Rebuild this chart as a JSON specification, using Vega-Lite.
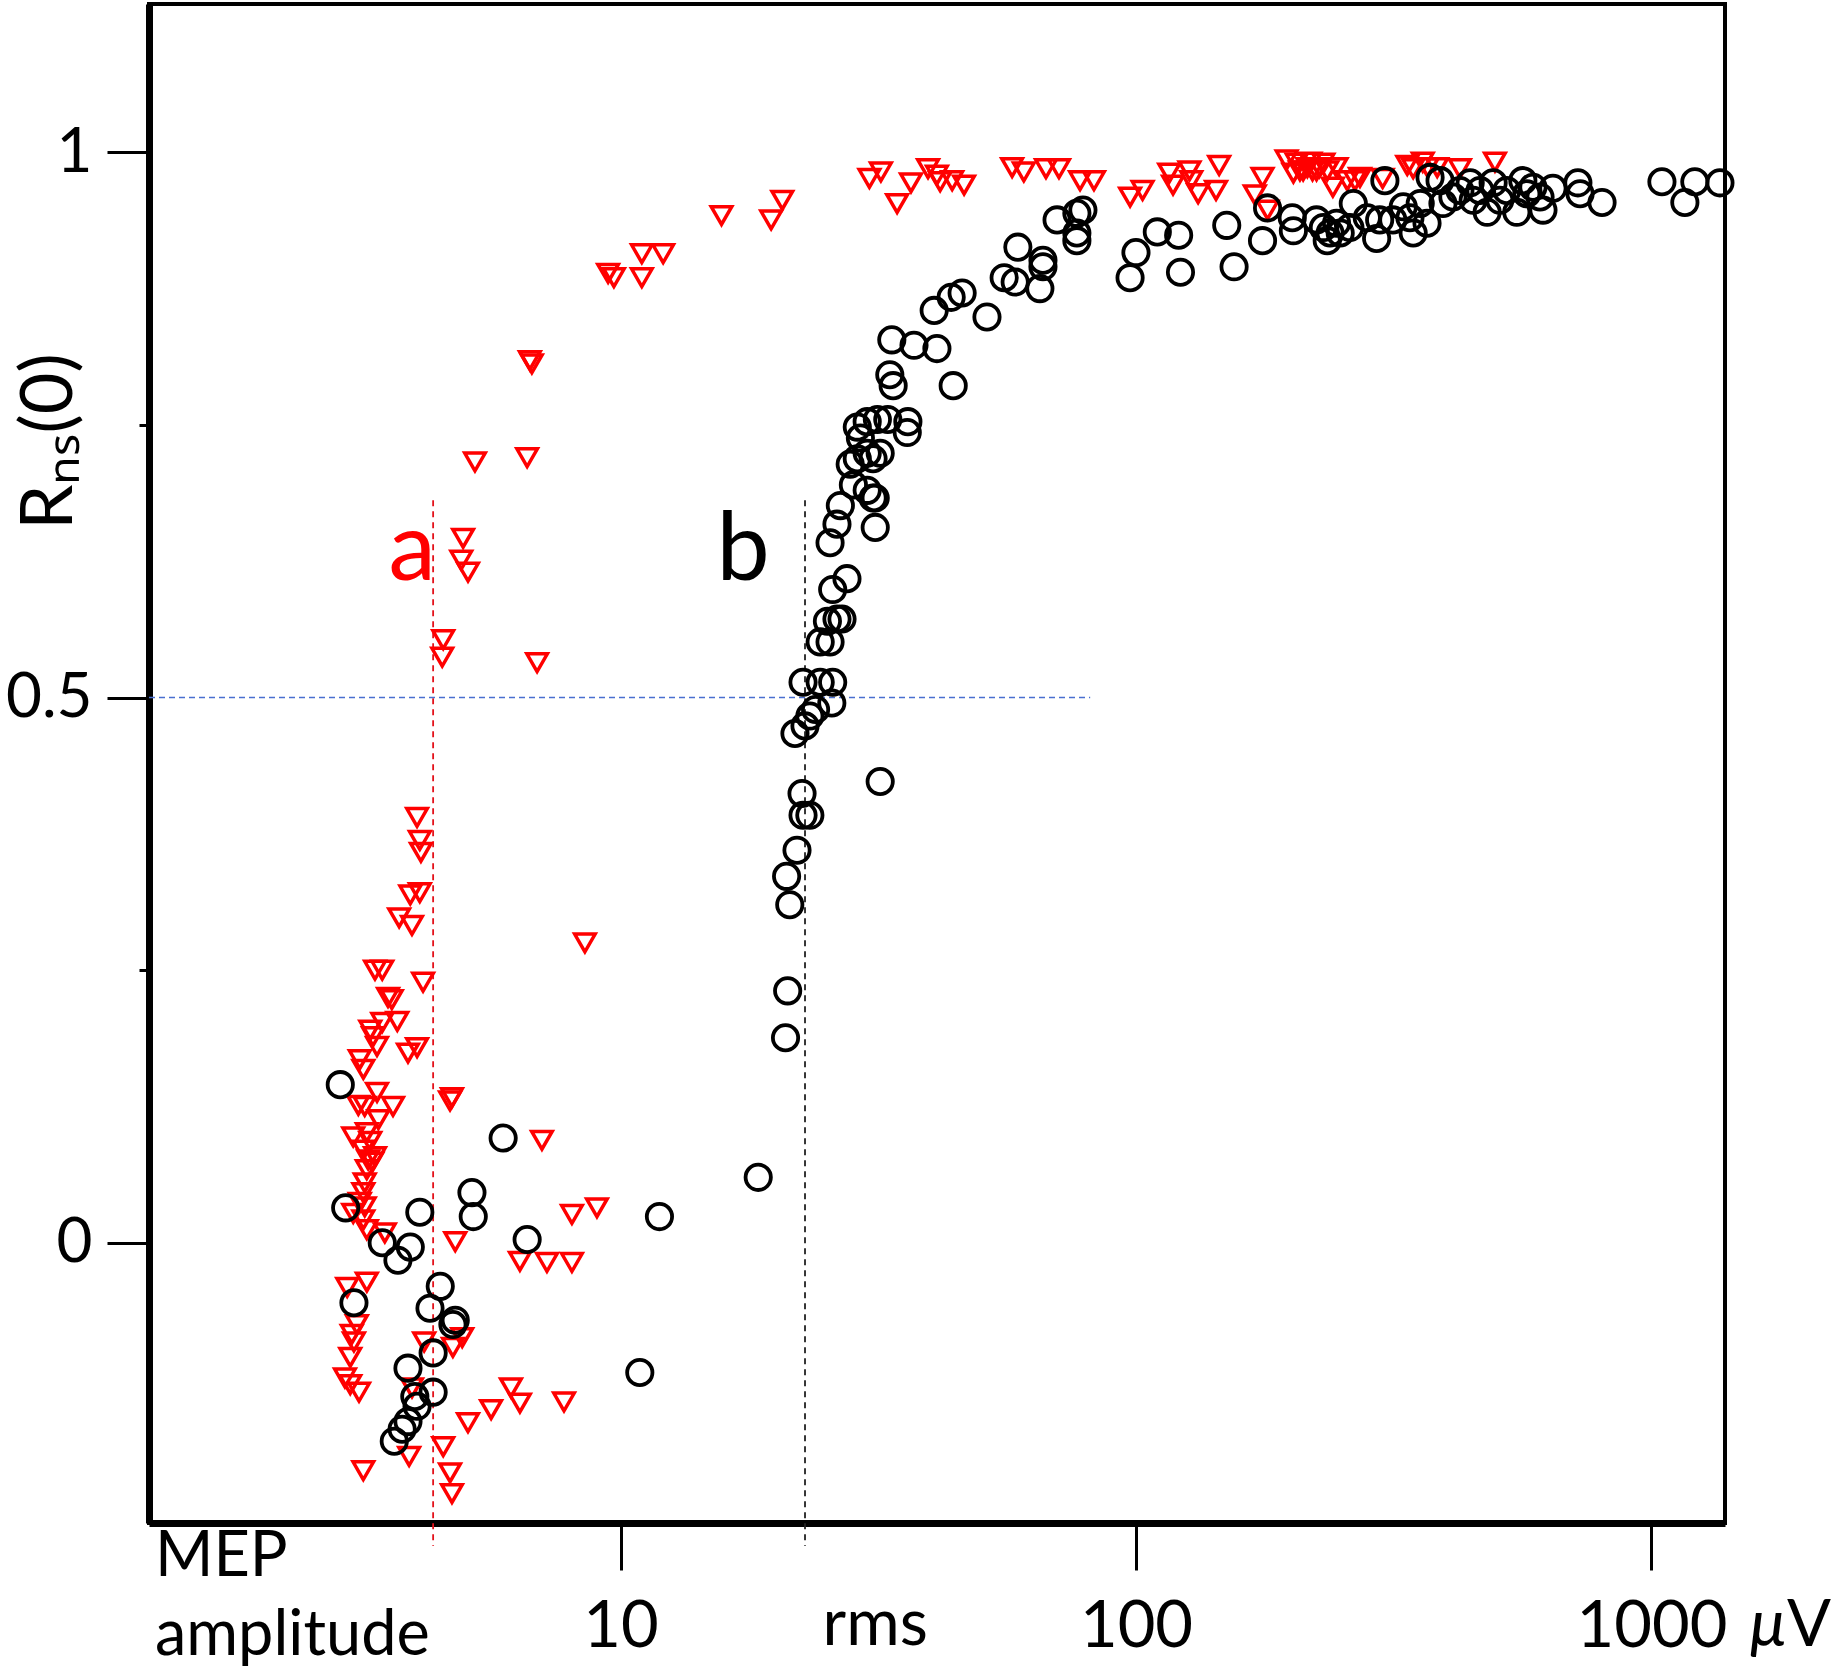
{
  "$schema": "https://vega.github.io/schema/vega-lite/v6.json",
  "width": 1576,
  "height": 1519,
  "autosize": "none",
  "padding": {"left": 149, "top": 4, "right": 112, "bottom": 150},
  "background": "white",
  "config": {
    "font": "Lato",
    "view": {"stroke": "black", "strokeWidth": 4}
  },
  "datasets": {
    "mep": [
      {"amp": 9.46, "r": 0.889}, {"amp": 9.71, "r": 0.885}, {"amp": 11.0, "r": 0.907}, {"amp": 12.1, "r": 0.907},
      {"amp": 11.0, "r": 0.885}, {"amp": 15.7, "r": 0.942}, {"amp": 19.6, "r": 0.938}, {"amp": 20.6, "r": 0.956},
      {"amp": 30.4, "r": 0.976}, {"amp": 32.0, "r": 0.982}, {"amp": 34.4, "r": 0.953}, {"amp": 36.6, "r": 0.972},
      {"amp": 39.5, "r": 0.985}, {"amp": 41.7, "r": 0.973}, {"amp": 44.0, "r": 0.974}, {"amp": 46.4, "r": 0.970},
      {"amp": 41.1, "r": 0.979}, {"amp": 57.5, "r": 0.986}, {"amp": 60.6, "r": 0.982}, {"amp": 66.9, "r": 0.985},
      {"amp": 70.9, "r": 0.985}, {"amp": 77.9, "r": 0.974}, {"amp": 82.9, "r": 0.974}, {"amp": 97.4, "r": 0.959},
      {"amp": 103, "r": 0.965}, {"amp": 116, "r": 0.981}, {"amp": 118, "r": 0.970}, {"amp": 127, "r": 0.983},
      {"amp": 128, "r": 0.974}, {"amp": 132, "r": 0.962}, {"amp": 143, "r": 0.965}, {"amp": 145, "r": 0.988},
      {"amp": 170, "r": 0.961}, {"amp": 176, "r": 0.977}, {"amp": 180, "r": 0.947}, {"amp": 196, "r": 0.993},
      {"amp": 202, "r": 0.981}, {"amp": 208, "r": 0.983}, {"amp": 215, "r": 0.986}, {"amp": 220, "r": 0.983},
      {"amp": 227, "r": 0.986}, {"amp": 235, "r": 0.983}, {"amp": 241, "r": 0.968}, {"amp": 245, "r": 0.986},
      {"amp": 257, "r": 0.974}, {"amp": 266, "r": 0.974}, {"amp": 272, "r": 0.977}, {"amp": 301, "r": 0.976},
      {"amp": 336, "r": 0.988}, {"amp": 345, "r": 0.985}, {"amp": 360, "r": 0.991}, {"amp": 368, "r": 0.986},
      {"amp": 384, "r": 0.986}, {"amp": 425, "r": 0.985}, {"amp": 497, "r": 0.991}, {"amp": 205, "r": 0.990},
      {"amp": 211, "r": 0.983}, {"amp": 218, "r": 0.991}, {"amp": 224, "r": 0.983}, {"amp": 231, "r": 0.990},
      {"amp": 6.67, "r": 0.809}, {"amp": 6.73, "r": 0.806}, {"amp": 5.22, "r": 0.716}, {"amp": 6.59, "r": 0.720},
      {"amp": 4.95, "r": 0.646}, {"amp": 4.91, "r": 0.626}, {"amp": 5.06, "r": 0.615}, {"amp": 4.53, "r": 0.553},
      {"amp": 4.51, "r": 0.537}, {"amp": 6.89, "r": 0.532}, {"amp": 4.03, "r": 0.390}, {"amp": 4.08, "r": 0.369},
      {"amp": 4.10, "r": 0.358}, {"amp": 3.91, "r": 0.319}, {"amp": 4.08, "r": 0.321}, {"amp": 3.72, "r": 0.298},
      {"amp": 3.94, "r": 0.291}, {"amp": 8.53, "r": 0.275}, {"amp": 3.34, "r": 0.250}, {"amp": 3.45, "r": 0.250},
      {"amp": 4.14, "r": 0.239}, {"amp": 3.54, "r": 0.225}, {"amp": 3.60, "r": 0.223}, {"amp": 3.69, "r": 0.203},
      {"amp": 3.45, "r": 0.202}, {"amp": 3.27, "r": 0.195}, {"amp": 3.31, "r": 0.189}, {"amp": 3.37, "r": 0.180},
      {"amp": 4.03, "r": 0.179}, {"amp": 3.87, "r": 0.174}, {"amp": 3.12, "r": 0.168}, {"amp": 3.17, "r": 0.159},
      {"amp": 4.71, "r": 0.133}, {"amp": 4.67, "r": 0.130}, {"amp": 3.37, "r": 0.138}, {"amp": 3.10, "r": 0.126},
      {"amp": 3.19, "r": 0.125}, {"amp": 3.62, "r": 0.125}, {"amp": 3.39, "r": 0.113}, {"amp": 3.22, "r": 0.101},
      {"amp": 3.03, "r": 0.097}, {"amp": 3.27, "r": 0.093}, {"amp": 3.17, "r": 0.085}, {"amp": 3.24, "r": 0.076},
      {"amp": 3.30, "r": 0.074}, {"amp": 3.34, "r": 0.079}, {"amp": 3.22, "r": 0.067}, {"amp": 3.19, "r": 0.055},
      {"amp": 3.17, "r": 0.046}, {"amp": 3.12, "r": 0.037}, {"amp": 3.19, "r": 0.033}, {"amp": 3.17, "r": 0.021},
      {"amp": 3.22, "r": 0.012}, {"amp": 3.49, "r": 0.009}, {"amp": 3.03, "r": 0.027}, {"amp": 7.04, "r": 0.094},
      {"amp": 8.05, "r": 0.026}, {"amp": 9.00, "r": 0.032}, {"amp": 4.78, "r": 0.001}, {"amp": 6.38, "r": -0.017},
      {"amp": 7.20, "r": -0.018}, {"amp": 8.05, "r": -0.018}, {"amp": 3.22, "r": -0.036}, {"amp": 2.95, "r": -0.041},
      {"amp": 3.08, "r": -0.075}, {"amp": 3.01, "r": -0.084}, {"amp": 3.04, "r": -0.091}, {"amp": 2.99, "r": -0.105},
      {"amp": 2.92, "r": -0.124}, {"amp": 2.99, "r": -0.130}, {"amp": 3.11, "r": -0.137}, {"amp": 4.16, "r": -0.091},
      {"amp": 4.73, "r": -0.096}, {"amp": 4.93, "r": -0.087}, {"amp": 3.94, "r": -0.133}, {"amp": 6.13, "r": -0.133},
      {"amp": 6.38, "r": -0.147}, {"amp": 5.61, "r": -0.153}, {"amp": 5.06, "r": -0.165}, {"amp": 7.77, "r": -0.146},
      {"amp": 3.17, "r": -0.209}, {"amp": 3.89, "r": -0.196}, {"amp": 4.53, "r": -0.187}, {"amp": 4.67, "r": -0.211},
      {"amp": 4.71, "r": -0.230}
    ],
    "rms": [
      {"amp": 2.86, "r": 0.145}, {"amp": 5.92, "r": 0.096}, {"amp": 5.15, "r": 0.046}, {"amp": 5.18, "r": 0.024},
      {"amp": 2.93, "r": 0.032}, {"amp": 4.08, "r": 0.028}, {"amp": 6.59, "r": 0.003}, {"amp": 3.45, "r": 0.000},
      {"amp": 3.91, "r": -0.004}, {"amp": 3.70, "r": -0.016}, {"amp": 4.47, "r": -0.040}, {"amp": 3.04, "r": -0.055},
      {"amp": 4.27, "r": -0.060}, {"amp": 4.78, "r": -0.071}, {"amp": 4.73, "r": -0.075}, {"amp": 4.33, "r": -0.101},
      {"amp": 3.87, "r": -0.115}, {"amp": 10.9, "r": -0.119}, {"amp": 4.33, "r": -0.137}, {"amp": 3.99, "r": -0.141},
      {"amp": 4.03, "r": -0.150}, {"amp": 3.87, "r": -0.164}, {"amp": 3.64, "r": -0.182}, {"amp": 3.77, "r": -0.171},
      {"amp": 11.9, "r": 0.024}, {"amp": 18.5, "r": 0.060}, {"amp": 20.9, "r": 0.188}, {"amp": 21.1, "r": 0.231},
      {"amp": 21.3, "r": 0.310}, {"amp": 21.0, "r": 0.336}, {"amp": 22.0, "r": 0.360}, {"amp": 23.3, "r": 0.392},
      {"amp": 22.6, "r": 0.392}, {"amp": 22.5, "r": 0.412}, {"amp": 31.9, "r": 0.423}, {"amp": 21.8, "r": 0.467},
      {"amp": 22.8, "r": 0.474}, {"amp": 23.3, "r": 0.483}, {"amp": 23.9, "r": 0.489}, {"amp": 22.6, "r": 0.514},
      {"amp": 24.4, "r": 0.514}, {"amp": 25.8, "r": 0.514}, {"amp": 25.7, "r": 0.495}, {"amp": 24.4, "r": 0.551},
      {"amp": 25.5, "r": 0.551}, {"amp": 25.2, "r": 0.570}, {"amp": 26.3, "r": 0.572}, {"amp": 26.9, "r": 0.572},
      {"amp": 25.8, "r": 0.599}, {"amp": 27.5, "r": 0.609}, {"amp": 25.5, "r": 0.642}, {"amp": 26.3, "r": 0.659},
      {"amp": 26.7, "r": 0.676}, {"amp": 31.2, "r": 0.656}, {"amp": 30.9, "r": 0.683}, {"amp": 28.3, "r": 0.695},
      {"amp": 27.9, "r": 0.714}, {"amp": 28.8, "r": 0.719}, {"amp": 30.1, "r": 0.724}, {"amp": 30.9, "r": 0.719},
      {"amp": 31.9, "r": 0.724}, {"amp": 29.2, "r": 0.738}, {"amp": 30.1, "r": 0.753}, {"amp": 31.5, "r": 0.755},
      {"amp": 33.0, "r": 0.755}, {"amp": 36.1, "r": 0.753}, {"amp": 36.0, "r": 0.743}, {"amp": 28.8, "r": 0.748},
      {"amp": 30.1, "r": 0.690}, {"amp": 31.2, "r": 0.683}, {"amp": 33.8, "r": 0.786}, {"amp": 44.2, "r": 0.786},
      {"amp": 33.3, "r": 0.796}, {"amp": 33.6, "r": 0.828}, {"amp": 37.1, "r": 0.823}, {"amp": 41.1, "r": 0.820},
      {"amp": 40.6, "r": 0.855}, {"amp": 43.8, "r": 0.867}, {"amp": 46.0, "r": 0.871}, {"amp": 51.4, "r": 0.849},
      {"amp": 55.5, "r": 0.885}, {"amp": 58.3, "r": 0.881}, {"amp": 59.0, "r": 0.913}, {"amp": 65.1, "r": 0.875},
      {"amp": 66.0, "r": 0.895}, {"amp": 66.0, "r": 0.901}, {"amp": 70.3, "r": 0.938}, {"amp": 76.8, "r": 0.944},
      {"amp": 78.9, "r": 0.947}, {"amp": 76.8, "r": 0.926}, {"amp": 76.8, "r": 0.919}, {"amp": 97.4, "r": 0.885},
      {"amp": 100, "r": 0.908}, {"amp": 110, "r": 0.927}, {"amp": 121, "r": 0.924}, {"amp": 122, "r": 0.890},
      {"amp": 150, "r": 0.933}, {"amp": 155, "r": 0.895}, {"amp": 176, "r": 0.919}, {"amp": 180, "r": 0.949},
      {"amp": 201, "r": 0.940}, {"amp": 202, "r": 0.928}, {"amp": 224, "r": 0.938}, {"amp": 231, "r": 0.931},
      {"amp": 238, "r": 0.926}, {"amp": 235, "r": 0.919}, {"amp": 245, "r": 0.935}, {"amp": 249, "r": 0.926},
      {"amp": 264, "r": 0.953}, {"amp": 260, "r": 0.931}, {"amp": 281, "r": 0.940}, {"amp": 293, "r": 0.921},
      {"amp": 297, "r": 0.938}, {"amp": 304, "r": 0.974}, {"amp": 315, "r": 0.938}, {"amp": 330, "r": 0.950},
      {"amp": 340, "r": 0.940}, {"amp": 345, "r": 0.926}, {"amp": 356, "r": 0.953}, {"amp": 367, "r": 0.935},
      {"amp": 372, "r": 0.977}, {"amp": 389, "r": 0.974}, {"amp": 394, "r": 0.953}, {"amp": 412, "r": 0.959},
      {"amp": 425, "r": 0.965}, {"amp": 445, "r": 0.972}, {"amp": 451, "r": 0.956}, {"amp": 465, "r": 0.965},
      {"amp": 480, "r": 0.945}, {"amp": 493, "r": 0.972}, {"amp": 508, "r": 0.956}, {"amp": 524, "r": 0.965},
      {"amp": 548, "r": 0.945}, {"amp": 563, "r": 0.974}, {"amp": 573, "r": 0.962}, {"amp": 589, "r": 0.968},
      {"amp": 608, "r": 0.959}, {"amp": 616, "r": 0.947}, {"amp": 644, "r": 0.967}, {"amp": 720, "r": 0.972},
      {"amp": 727, "r": 0.962}, {"amp": 802, "r": 0.954}, {"amp": 1048, "r": 0.973}, {"amp": 1161, "r": 0.954},
      {"amp": 1214, "r": 0.973}, {"amp": 1358, "r": 0.972}
    ]
  },
  "encoding": {
    "x": {
      "field": "amp",
      "type": "quantitative",
      "scale": {"type": "log", "domain": [1.217, 1389], "nice": false},
      "axis": {
        "values": [10, 100, 1000],
        "format": "d",
        "title": null,
        "grid": false,
        "domainColor": "black",
        "domainWidth": 7,
        "tickColor": "black",
        "tickWidth": 3,
        "tickSize": 47,
        "labelFont": "Lato",
        "labelFontSize": 65,
        "labelColor": "black",
        "labelBaseline": "alphabetic",
        "labelPadding": 76,
        "labelFlush": false,
        "labelOverlap": false
      }
    },
    "y": {
      "field": "r",
      "type": "quantitative",
      "scale": {"domain": [-0.257, 1.136], "nice": false, "zero": false},
      "axis": {
        "values": [0, 0.25, 0.5, 0.75, 1],
        "labelExpr": "datum.value == 1 ? '1' : datum.value == 0.5 ? '0.5' : datum.value == 0 ? '0' : ''",
        "grid": false,
        "domainColor": "black",
        "domainWidth": 7,
        "tickColor": "black",
        "tickWidth": 3,
        "tickSize": {"condition": {"test": "datum.value == 0.25 || datum.value == 0.75", "value": 10}, "value": 42},
        "labelFont": "Lato",
        "labelFontSize": 62,
        "labelColor": "black",
        "labelPadding": 15,
        "title": "Rₙₛ(0)",
        "titleFont": "Lato",
        "titleFontSize": 72,
        "titleFontWeight": "normal",
        "titleColor": "black",
        "titleAngle": -90,
        "titleAlign": "center",
        "titleBaseline": "middle",
        "titleX": -100,
        "titleY": 437
      }
    }
  },
  "layer": [
    {
      "data": {"values": [{"amp": 4.33, "r": 0.681, "r2": -0.278}]},
      "mark": {"type": "rule", "color": "#e3121b", "strokeWidth": 1.8, "strokeDash": [6, 5]},
      "encoding": {"y2": {"field": "r2"}}
    },
    {
      "data": {"values": [{"amp": 22.8, "r": 0.681, "r2": -0.278}]},
      "mark": {"type": "rule", "color": "#222222", "strokeWidth": 1.8, "strokeDash": [6, 5]},
      "encoding": {"y2": {"field": "r2"}}
    },
    {
      "data": {"values": [{"amp": 1.217, "amp2": 81.5, "r": 0.5}]},
      "mark": {"type": "rule", "color": "#4a6fd0", "strokeWidth": 1.6, "strokeDash": [6, 4]},
      "encoding": {"x2": {"field": "amp2"}}
    },
    {
      "data": {"name": "mep"},
      "mark": {"type": "point", "shape": "triangle-down", "filled": false, "color": "#ff0000", "strokeWidth": 3.5, "size": 420, "opacity": 1}
    },
    {
      "data": {"name": "rms"},
      "mark": {"type": "point", "shape": "circle", "filled": false, "color": "#000000", "strokeWidth": 3.8, "size": 640, "opacity": 1}
    },
    {
      "data": {"values": [{"amp": 3.94, "r": 0.608, "label": "a"}]},
      "mark": {"type": "text", "color": "#ff0000", "fontSize": 95, "align": "center", "baseline": "alphabetic"},
      "encoding": {"text": {"field": "label"}}
    },
    {
      "data": {"values": [{"amp": 17.3, "r": 0.608, "label": "b"}]},
      "mark": {"type": "text", "color": "#000000", "fontSize": 95, "align": "center", "baseline": "alphabetic"},
      "encoding": {"text": {"field": "label"}}
    },
    {
      "data": {"values": [
        {"amp": 1.25, "r": -0.306, "label": "MEP"},
        {"amp": 1.25, "r": -0.378, "label": "amplitude"}
      ]},
      "mark": {"type": "text", "color": "#000000", "fontSize": 63, "align": "left", "baseline": "alphabetic"},
      "encoding": {"text": {"field": "label"}}
    },
    {
      "data": {"values": [{"amp": 31.2, "r": -0.369, "label": "rms"}]},
      "mark": {"type": "text", "color": "#000000", "fontSize": 65, "align": "center", "baseline": "alphabetic"},
      "encoding": {"text": {"field": "label"}}
    },
    {
      "data": {"values": [{"amp": 1553, "r": -0.37, "label": "μ"}]},
      "mark": {"type": "text", "color": "#000000", "fontSize": 65, "fontStyle": "italic", "align": "left", "baseline": "alphabetic"},
      "encoding": {"text": {"field": "label"}}
    },
    {
      "data": {"values": [{"amp": 1832, "r": -0.37, "label": "V"}]},
      "mark": {"type": "text", "color": "#000000", "fontSize": 65, "align": "left", "baseline": "alphabetic"},
      "encoding": {"text": {"field": "label"}}
    }
  ]
}
